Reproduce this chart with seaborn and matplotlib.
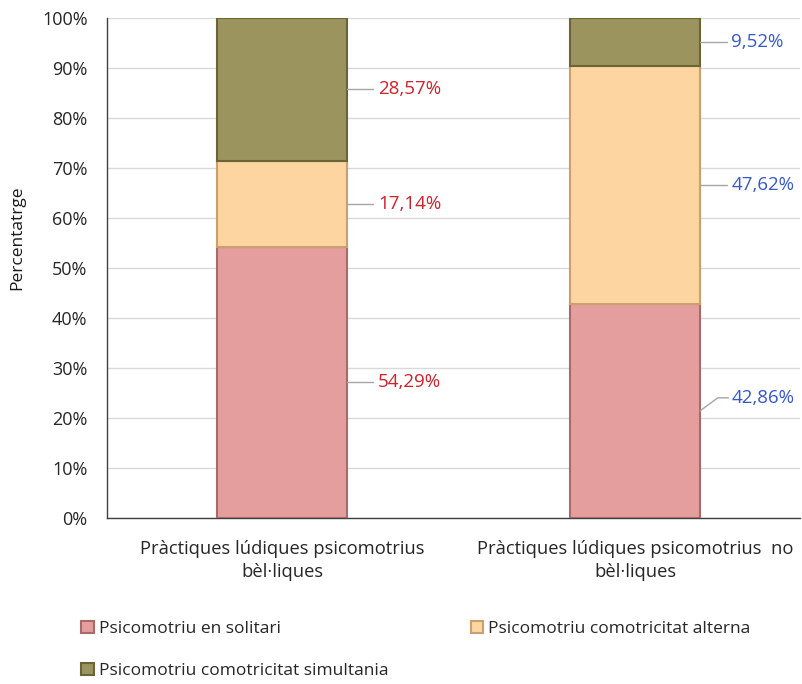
import numpy as np
import pandas as pd

import matplotlib
matplotlib.use('Agg')
import matplotlib.pyplot as plt
import seaborn as sns

categories = ['Pràctiques lúdiques psicomotrius\nbèl·liques',
              'Pràctiques lúdiques psicomotrius  no\nbèl·liques']
series = ['Psicomotriu en solitari',
          'Psicomotriu comotricitat alterna',
          'Psicomotriu comotricitat simultania']
solitari = [54.29, 42.86]
alterna = [17.14, 47.62]
simultania = [28.57, 9.52]
label_colors = ['#D0202A', '#3558CC']

colors = ['#E59E9E', '#FDD5A0', '#9C945E']
edges = ['#A86A6A', '#C9A06E', '#6A6436']

sns.set_theme(style='white')
plt.rcParams['font.family'] = ['Open Sans', 'DejaVu Sans']

df = pd.DataFrame({'cat': categories, series[0]: solitari,
                   series[1]: alterna, series[2]: simultania})

fig = plt.figure(figsize=(8.03, 6.84), dpi=100)
ax = fig.add_axes([0.1333, 0.2427, 0.8630, 0.7310])

bar_w = 0.368
bottom = np.zeros(len(categories))
for s, c, e in zip(series, colors, edges):
    sns.barplot(data=df, x='cat', y=s, color=c, width=bar_w, bottom=bottom,
                saturation=1, edgecolor=e, linewidth=1.5, ax=ax, label=s, zorder=3)
    bottom = bottom + df[s].values

# data labels with leader lines
half = bar_w / 2
for i in range(len(categories)):
    base = 0.0
    for s in series:
        v = df[s].iloc[i]
        mid = base + v / 2
        base += v
        ty = mid
        x0 = i + half
        if i == 1 and s == series[0]:
            ty = mid + 2.6
            ax.plot([x0, x0 + 0.05, x0 + 0.08], [mid, ty, ty], color='#A6A6A6', lw=1, zorder=4, clip_on=False)
        else:
            ax.plot([x0, x0 + 0.075], [mid, ty], color='#A6A6A6', lw=1, zorder=4, clip_on=False)
        ax.text(x0 + 0.088, ty, f'{v:.2f}%'.replace('.', ','), color=label_colors[i],
                fontsize=13.5, va='center', ha='left')

ax.set_xlim(-0.4956, 1.467)
ax.set_ylim(0, 100)
ax.set_yticks(np.arange(0, 101, 10))
ax.set_yticklabels([f'{t}%' for t in range(0, 101, 10)], fontsize=13, color='#262626')
ax.tick_params(axis='x', labelsize=13.2, colors='#262626', pad=16, length=0)
ax.tick_params(axis='y', length=0, pad=14)
for t in ax.get_xticklabels():
    t.set_linespacing(1.35)
ax.set_xlabel('')
ax.set_ylabel('Percentatrge', fontsize=12.5, color='#1a1a1a')
ax.yaxis.set_label_coords(-0.118, 0.56)
ax.yaxis.grid(True, color='#D9D9D9', lw=1, zorder=0)
ax.set_axisbelow(True)
for side in ['top', 'right']:
    ax.spines[side].set_visible(False)
ax.spines['left'].set_color('#404040')
ax.spines['bottom'].set_color('#404040')
ax.spines['left'].set_linewidth(1)
ax.spines['bottom'].set_linewidth(1)

handles, labels = ax.get_legend_handles_labels()
order = [0, 2, 1]
leg = fig.legend([handles[k] for k in order], [labels[k] for k in order],
                 loc='upper left', bbox_to_anchor=(0.082, 0.115),
                 ncol=2, frameon=False, fontsize=12.5, handlelength=0.7, handleheight=0.7,
                 handletextpad=0.3, columnspacing=4.75, labelspacing=1.5)
if ax.get_legend() is not None:
    ax.get_legend().remove()

fig.savefig('out.png', dpi=100)
